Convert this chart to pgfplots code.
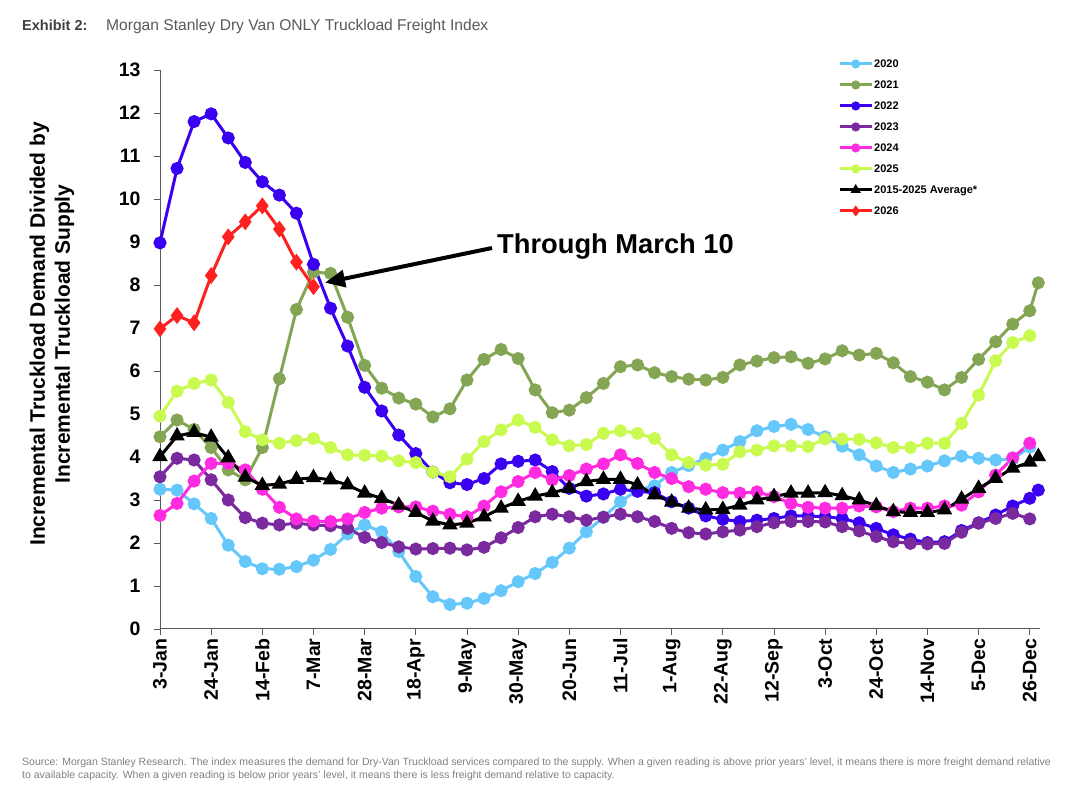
\documentclass[border=0pt]{standalone}
\usepackage{fontspec}
\setmainfont{Liberation Sans}
\usepackage{pgfplots}
\pgfplotsset{compat=1.18}
\usetikzlibrary{arrows.meta}

\definecolor{c2020}{RGB}{102,200,250}
\definecolor{c2021}{RGB}{132,166,84}
\definecolor{c2022}{RGB}{58,0,240}
\definecolor{c2023}{RGB}{122,42,158}
\definecolor{c2024}{RGB}{255,43,224}
\definecolor{c2025}{RGB}{200,250,80}
\definecolor{c2026}{RGB}{255,32,32}
\definecolor{axgray}{RGB}{90,90,90}

\pgfplotstableread{
x y
0 3.25
1 3.23
2 2.91
3 2.57
4 1.95
5 1.57
6 1.40
7 1.39
8 1.45
9 1.60
10 1.85
11 2.21
12 2.42
13 2.26
14 1.80
15 1.22
16 0.75
17 0.57
18 0.60
19 0.71
20 0.89
21 1.10
22 1.29
23 1.55
24 1.88
25 2.26
26 2.60
27 2.96
28 3.23
29 3.33
30 3.64
31 3.80
32 3.97
33 4.16
34 4.36
35 4.61
36 4.71
37 4.76
38 4.64
39 4.47
40 4.25
41 4.05
42 3.79
43 3.64
44 3.72
45 3.79
46 3.91
47 4.02
48 3.97
49 3.93
50 3.95
51 4.23
}\dataA

\pgfplotstableread{
x y
0 4.47
1 4.86
2 4.64
3 4.22
4 3.70
5 3.47
6 4.22
7 5.82
8 7.43
9 8.30
10 8.27
11 7.25
12 6.13
13 5.60
14 5.37
15 5.23
16 4.93
17 5.12
18 5.79
19 6.27
20 6.50
21 6.29
22 5.56
23 5.03
24 5.09
25 5.38
26 5.71
27 6.10
28 6.14
29 5.96
30 5.87
31 5.81
32 5.79
33 5.85
34 6.14
35 6.23
36 6.31
37 6.33
38 6.18
39 6.28
40 6.47
41 6.37
42 6.41
43 6.19
44 5.87
45 5.74
46 5.56
47 5.85
48 6.27
49 6.68
50 7.09
51 7.40
51.5 8.05
}\dataB

\pgfplotstableread{
x y
0 8.98
1 10.71
2 11.80
3 11.98
4 11.42
5 10.85
6 10.40
7 10.09
8 9.67
9 8.48
10 7.46
11 6.58
12 5.62
13 5.07
14 4.51
15 4.08
16 3.65
17 3.40
18 3.36
19 3.50
20 3.84
21 3.90
22 3.93
23 3.66
24 3.27
25 3.09
26 3.14
27 3.25
28 3.20
29 3.17
30 2.96
31 2.81
32 2.63
33 2.55
34 2.50
35 2.53
36 2.57
37 2.63
38 2.63
39 2.61
40 2.57
41 2.47
42 2.34
43 2.19
44 2.09
45 2.01
46 2.03
47 2.29
48 2.47
49 2.65
50 2.86
51 3.04
51.5 3.23
}\dataC

\pgfplotstableread{
x y
0 3.54
1 3.97
2 3.93
3 3.47
4 3.00
5 2.59
6 2.46
7 2.42
8 2.46
9 2.42
10 2.40
11 2.34
12 2.13
13 2.01
14 1.91
15 1.86
16 1.87
17 1.88
18 1.84
19 1.90
20 2.12
21 2.36
22 2.61
23 2.67
24 2.61
25 2.53
26 2.60
27 2.67
28 2.61
29 2.50
30 2.34
31 2.24
32 2.21
33 2.26
34 2.30
35 2.38
36 2.47
37 2.50
38 2.50
39 2.49
40 2.38
41 2.28
42 2.15
43 2.03
44 1.99
45 1.98
46 1.99
47 2.25
48 2.46
49 2.57
50 2.69
51 2.56
}\dataD

\pgfplotstableread{
x y
0 2.64
1 2.92
2 3.44
3 3.85
4 3.85
5 3.70
6 3.25
7 2.83
8 2.56
9 2.51
10 2.50
11 2.56
12 2.71
13 2.81
14 2.84
15 2.84
16 2.74
17 2.67
18 2.61
19 2.86
20 3.19
21 3.43
22 3.64
23 3.47
24 3.57
25 3.72
26 3.84
27 4.05
28 3.85
29 3.64
30 3.50
31 3.31
32 3.25
33 3.17
34 3.16
35 3.19
36 3.08
37 2.92
38 2.83
39 2.81
40 2.81
41 2.86
42 2.84
43 2.73
44 2.81
45 2.81
46 2.86
47 2.88
48 3.19
49 3.58
50 3.98
51 4.32
}\dataE

\pgfplotstableread{
x y
0 4.95
1 5.53
2 5.71
3 5.79
4 5.27
5 4.59
6 4.40
7 4.32
8 4.38
9 4.43
10 4.22
11 4.05
12 4.04
13 4.02
14 3.91
15 3.87
16 3.65
17 3.54
18 3.95
19 4.36
20 4.63
21 4.86
22 4.69
23 4.40
24 4.26
25 4.29
26 4.55
27 4.61
28 4.55
29 4.43
30 4.05
31 3.87
32 3.81
33 3.83
34 4.12
35 4.16
36 4.26
37 4.26
38 4.24
39 4.42
40 4.42
41 4.41
42 4.33
43 4.22
44 4.22
45 4.32
46 4.32
47 4.78
48 5.44
49 6.24
50 6.66
51 6.82
}\dataF

\pgfplotstableread{
x y
0 4.01
1 4.49
2 4.57
3 4.46
4 3.98
5 3.53
6 3.34
7 3.37
8 3.48
9 3.52
10 3.47
11 3.35
12 3.16
13 3.04
14 2.88
15 2.71
16 2.51
17 2.42
18 2.46
19 2.61
20 2.81
21 2.97
22 3.09
23 3.17
24 3.27
25 3.43
26 3.48
27 3.48
28 3.35
29 3.12
30 2.95
31 2.81
32 2.77
33 2.78
34 2.88
35 3.00
36 3.08
37 3.16
38 3.16
39 3.17
40 3.10
41 3.00
42 2.87
43 2.73
44 2.71
45 2.71
46 2.77
47 3.02
48 3.27
49 3.50
50 3.74
51 3.88
51.5 4.01
}\dataG

\pgfplotstableread{
x y
0 6.98
1 7.29
2 7.12
3 8.22
4 9.12
5 9.47
6 9.84
7 9.30
8 8.53
9 7.96
}\dataH

\begin{document}
\begin{tikzpicture}[x=1pt,y=1pt]
\useasboundingbox (0,0) rectangle (1072,790);

\node[anchor=base west, inner sep=0, text=black!75, font=\fontsize{14.5}{17}\selectfont\bfseries] at (22,759.3) {Exhibit 2:};
\node[anchor=base west, inner sep=0, text=black!65, font=\fontsize{15.6}{18}\selectfont] at (106,759.3) {Morgan Stanley Dry Van ONLY Truckload Freight Index};

\begin{axis}[
  at={(160pt,161pt)}, anchor=south west,
  scale only axis, width=880pt, height=559pt,
  xmin=0, xmax=51.6, ymin=0, ymax=13,
  axis x line*=bottom, axis y line*=left,
  axis line style={axgray, line width=1pt},
  xtick={0,3,...,51},
  xticklabels={3-Jan,24-Jan,14-Feb,7-Mar,28-Mar,18-Apr,9-May,30-May,20-Jun,11-Jul,1-Aug,22-Aug,12-Sep,3-Oct,24-Oct,14-Nov,5-Dec,26-Dec},
  ytick={0,1,...,13},
  tick align=outside,
  major tick length=6pt,
  tick style={axgray, line width=0.9pt},
  /pgf/number format/assume math mode=true,
  xticklabel style={rotate=90, anchor=east, font=\fontsize{19.5}{20}\selectfont\bfseries},
  yticklabel style={font=\fontsize{19.5}{20}\selectfont\bfseries, xshift=-10pt},
  clip=false,
  legend cell align=left,
  legend style={at={(rel axis cs:0.7705,1.021)}, anchor=north west, draw=none, fill=none,
    font=\fontsize{11}{13}\selectfont\bfseries, row sep=10pt, inner sep=0pt,
    nodes={inner sep=1pt, text height=8pt, text depth=1pt}},
  legend image code/.code={\draw[#1, line width=3pt, mark size=3pt, mark repeat=2, mark phase=2] plot coordinates {(0pt,0pt) (16pt,0pt) (32pt,0pt)};},
  every axis plot/.append style={line width=3pt, mark size=5pt},
]
\addplot[color=c2020, mark=*, mark options={solid}] table[x=x,y=y] {\dataA};
\addlegendentry{2020}
\addplot[color=c2021, mark=*, mark options={solid}] table[x=x,y=y] {\dataB};
\addlegendentry{2021}
\addplot[color=c2022, mark=*, mark options={solid}] table[x=x,y=y] {\dataC};
\addlegendentry{2022}
\addplot[color=c2023, mark=*, mark options={solid}] table[x=x,y=y] {\dataD};
\addlegendentry{2023}
\addplot[color=c2024, mark=*, mark options={solid}] table[x=x,y=y] {\dataE};
\addlegendentry{2024}
\addplot[color=c2025, mark=*, mark options={solid}] table[x=x,y=y] {\dataF};
\addlegendentry{2025}
\addplot[color=black, mark=triangle*, mark size=6pt, mark options={solid}] table[x=x,y=y] {\dataG};
\addlegendentry{2015-2025 Average*}
\addplot[color=c2026, mark=diamond*, mark size=6pt, mark options={solid}] table[x=x,y=y] {\dataH};
\addlegendentry{2026}
\end{axis}

\node[rotate=90, align=center, inner sep=0, font=\fontsize{21}{25}\selectfont\bfseries] at (52,456)
  {Incremental Truckload Demand Divided by\\Incremental Truckload Supply};

\draw[line width=4pt, -{Triangle[length=20pt,width=17pt]}] (492,542) -- (325,507.3);
\node[anchor=base west, inner sep=0, font=\fontsize{27.3}{30}\selectfont\bfseries] at (497,536) {Through March 10};

\node[anchor=base west, align=left, inner sep=0, text=black!50, font=\fontsize{10.5}{12.3}\selectfont] at (22,11.7)
  {Source: Morgan Stanley Research. The index measures the demand for Dry-Van Truckload services compared to the supply. When a given reading is above prior years' level, it means there is more freight demand relative\\to available capacity. When a given reading is below prior years' level, it means there is less freight demand relative to capacity.};
\end{tikzpicture}
\end{document}
